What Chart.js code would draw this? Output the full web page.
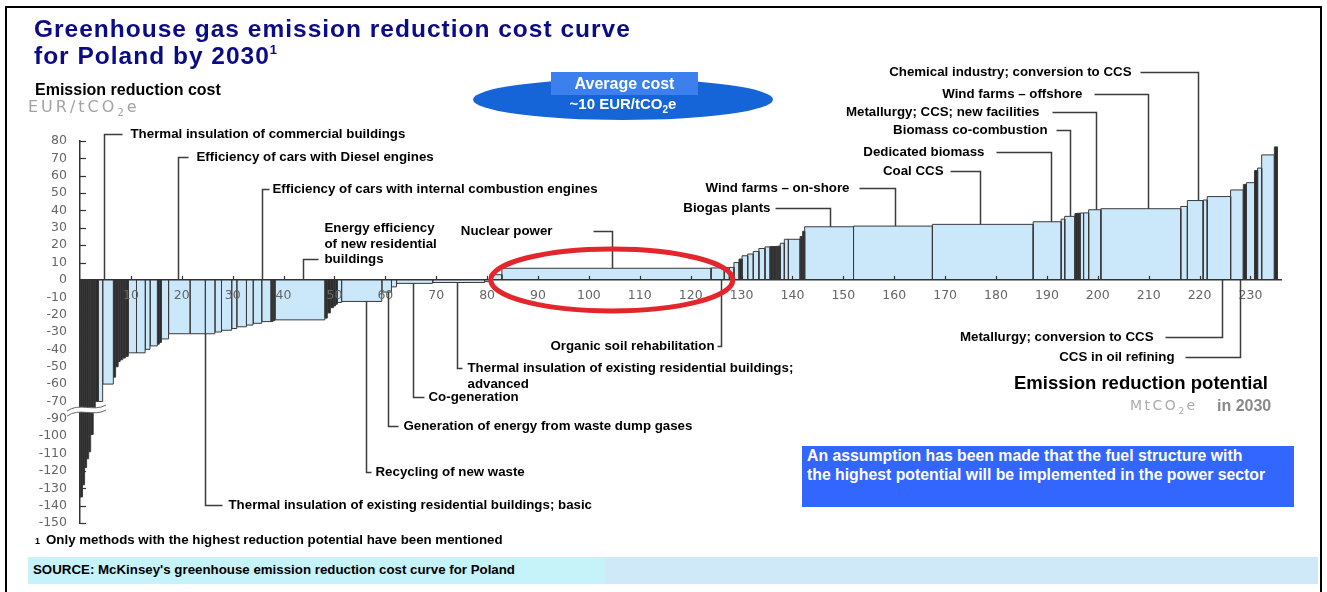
<!DOCTYPE html>
<html>
<head>
<meta charset="utf-8">
<script src="https://cdn.jsdelivr.net/npm/chart.js@4.4.1/dist/chart.umd.min.js"></script>
<style>
  body { margin: 0; width: 1327px; height: 592px; overflow: hidden; background: #fff; position: relative;
         font-family: "Liberation Sans", Arial, sans-serif; }
  .abs { position: absolute; white-space: nowrap; }
  #chart { position: absolute; left: 0; top: 0; }
  .frame { position: absolute; left: 5px; top: 6px; width: 1313px; height: 600px; border: 2px solid #000; }
  .title { left: 34px; top: 15px; font-size: 24.5px; line-height: 27px; font-weight: bold; color: #0b0b85; letter-spacing: 1px; }
  .title sup { font-size: 13px; line-height: 0; vertical-align: 10px; letter-spacing: 0; }
  .ytitle { left: 35px; top: 81px; font-size: 16px; line-height: 17px; font-weight: bold; color: #000; }
  .yunit { left: 28px; top: 98px; font-family: "DejaVu Sans", sans-serif; font-size: 16px; line-height: 18px; color: #a3a3a3; letter-spacing: 3px; }
  .ellipse { left: 473px; top: 79px; width: 300px; height: 41px; border-radius: 50%; background: #1665d8; }
  .avgbox { left: 551px; top: 72px; width: 147px; height: 23px; background: #3b80ec; color: #fff; font-weight: bold;
            font-size: 16px; line-height: 23px; text-align: center; }
  .avgval { left: 473px; top: 95px; width: 300px; text-align: center; color: #fff; font-weight: bold; font-size: 15px; line-height: 17px; }
  .avgval sub, .yunit sub, .xunit sub { line-height: 0; }
  .xtitle { left: 1014px; top: 373px; font-size: 18.5px; line-height: 20px; font-weight: bold; color: #000; }
  .xunit { left: 1130px; top: 397px; font-family: "DejaVu Sans", sans-serif; font-size: 14px; line-height: 17px; color: #ababab; letter-spacing: 2.5px; }
  .xyear { left: 1217px; top: 397px; font-size: 16px; line-height: 18px; font-weight: bold; color: #8a8a8a; }
  .note { left: 802px; top: 446px; width: 487px; height: 61px; padding-left: 5px; background: #3366fe; color: #fff;
          font-weight: bold; font-size: 15.8px; line-height: 19px; }
  .foot { left: 35px; top: 532px; font-size: 13.3px; line-height: 16px; font-weight: bold; color: #000; }
  .foot span { font-size: 9px; margin-right: 6px; }
  .src1 { left: 28px; top: 557px; width: 577px; height: 27px; background: #c6f3fa; }
  .src2 { left: 605px; top: 557px; width: 713px; height: 27px; background: #cfe9f8; }
  .srctext { left: 33px; top: 562px; font-size: 13.3px; line-height: 15px; font-weight: bold; color: #000; }
</style>
</head>
<body>
<div class="frame"></div>
<canvas id="chart" width="1327" height="592"></canvas>

<div class="abs title">Greenhouse gas emission reduction cost curve<br>for Poland by 2030<sup>1</sup></div>
<div class="abs ytitle">Emission reduction cost</div>
<div class="abs yunit">EUR/tCO<sub style="font-size:10px">2</sub>e</div>
<div class="abs ellipse"></div>
<div class="abs avgbox">Average cost</div>
<div class="abs avgval">~10 EUR/tCO<sub style="font-size:10px">2</sub>e</div>
<div class="abs xtitle">Emission reduction potential</div>
<div class="abs xunit">MtCO<sub style="font-size:9px">2</sub>e</div>
<div class="abs xyear">in 2030</div>
<div class="abs note">An assumption has been made that the fuel structure with<br>the highest potential will be implemented in the power sector</div>
<div class="abs foot"><span>1</span>Only methods with the highest reduction potential have been mentioned</div>
<div class="abs src1"></div>
<div class="abs src2"></div>
<div class="abs srctext">SOURCE: McKinsey's greenhouse emission reduction cost curve for Poland</div>

<script>
// abatement potential of each measure (MtCO2e), left to right
const potential = [0.5, 0.4, 0.4, 0.4, 0.4, 0.5, 0.4, 0.6, 0.85, 2.1,
    0.45, 0.5, 0.4, 0.5, 0.5, 0.6, 1.6, 1.7, 0.95, 1.45,
    0.4, 0.4, 1.4, 4.2, 3.0, 1.9, 1.3, 2.0, 1.0, 1.9,
    1.3, 1.7, 1.8, 0.4, 0.4, 9.8, 0.5, 0.6, 0.6, 0.4,
    0.4, 0.8, 7.9, 1.9, 1.0, 7.1, 10.2, 1.0, 2.4, 41.1,
    2.6, 1.0, 0.9, 1.0, 0.6, 1.1, 1.1, 1.1, 1.2, 1.0,
    0.6, 0.6, 0.4, 0.4, 0.8, 0.8, 2.3, 0.5, 0.4, 9.6,
    15.5, 19.8, 5.5, 0.7, 2.0, 0.5, 0.5, 0.7, 1.0, 2.4,
    15.7, 1.3, 3.1, 0.8, 4.6, 2.5, 0.6, 1.6, 0.6, 0.8,
    2.5, 0.6];

// reduction cost of each measure (EUR/tCO2e)
const cost = [-135, -128, -118, -113, -109, -99, -85, -70, -70, -60,
    -56, -50, -47, -46, -45, -44, -42, -42, -40, -38,
    -37, -36, -34, -31, -31, -31, -30, -29, -28, -27,
    -26, -25, -24, -24, -23.5, -23, -22, -19, -16, -15,
    -14, -13, -12.4, -7, -4, -2, -1.5, -1, 3, 6.7,
    6.9, 7, 7.2, 10, 12, 13.9, 14.9, 16.4, 18.1, 19,
    19.2, 19.2, 19.3, 19.5, 21.1, 23.4, 23.4, 25, 28, 30.6,
    31, 32, 33.5, 35, 36.6, 38.2, 38.4, 38.5, 38.6, 40.4,
    41, 42.3, 45.7, 46, 48, 51.8, 55, 56, 63, 64.4,
    72, 76.6];

// named measures; x = potential where the leader touches the curve
const measures = ['Thermal insulation of commercial buildings', 'Efficiency of cars with Diesel engines',
    'Efficiency of cars with internal combustion engines', 'Energy efficiency\nof new residential\nbuildings',
    'Nuclear power', 'Biogas plants', 'Wind farms \u2013 on-shore', 'Coal CCS', 'Dedicated biomass',
    'Biomass co-combustion', 'Metallurgy; CCS; new facilities', 'Wind farms \u2013 offshore',
    'Chemical industry; conversion to CCS', 'Organic soil rehabilitation',
    'Thermal insulation of existing residential buildings;\nadvanced', 'Co-generation',
    'Generation of energy from waste dump gases', 'Recycling of new waste',
    'Thermal insulation of existing residential buildings; basic', 'Metallurgy; conversion to CCS',
    'CCS in oil refining'];
const measureAt = [4.7, 19.3, 35.8, 43.8, 104.5, 147.3, 160.1, 176.8, 190.8, 194.5, 199.6, 209.8, 219.6,
    125.9, 74.1, 65.4, 60.5, 56.2, 24.6, 224.4, 227.9];

const xTicksStep = 10;
const yTicks = [80, 70, 60, 50, 40, 30, 20, 10, 0, -10, -20, -30, -40, -50, -60, -70, -90, -100, -110, -120, -130, -140, -150];

// label layout: leader elbow height (axis units), hook length and text gap (px), aligned row
const labelLayout = [
    { y: 84, hook: 18, gap: 8 }, { y: 70.9, hook: 10, gap: 8 }, { y: 52.4, hook: 7, gap: 3 },
    { y: 12.1, hook: 15, gap: 6, row: 2 }, { y: 28.2, hook: -19, gap: 41 }, { y: 41.5, hook: -55, gap: 5 },
    { y: 53, hook: -36, gap: 10 }, { y: 62.8, hook: -30, gap: 7 }, { y: 73.7, hook: -55, gap: 12 },
    { y: 86.4, hook: -14, gap: 9 }, { y: 96.8, hook: -44, gap: 13 }, { y: 107.1, hook: -54, gap: 12 },
    { y: 119.8, hook: -58, gap: 9 }, { y: -38, hook: -4, gap: 3 }, { y: -50.7, hook: 5, gap: 5 },
    { y: -67.4, hook: 11, gap: 4 }, { y: -84.1, hook: 10, gap: 5 }, { y: -110.6, hook: 5, gap: 4 },
    { y: -129.6, hook: 17, gap: 6 }, { y: -32.8, hook: -57, gap: 12 }, { y: -44.4, hook: -55, gap: 11 }
];

// the axis is broken between -70 and -90
function toAxis(v) {
    return v >= -70 ? v : Math.min(-70, v + 10);
}
function fromAxis(d) {
    return d > -75 ? d : d - 10;
}

const starts = [];
let acc = 0;
potential.forEach(w => { starts.push(acc); acc += w; });

function barValueAt(xv) {
    for (let i = 0; i < potential.length; i++) {
        if (xv >= starts[i] && xv < starts[i] + potential[i]) return toAxis(cost[i]);
    }
    return 0;
}

const datasets = cost.map((c, i) => {
    const x0 = starts[i];
    const x1 = x0 + potential[i];
    const v = toAxis(c);
    return {
        data: [{ x: x0, y: 0 }, { x: x0, y: v }, { x: x1, y: v }, { x: x1, y: 0 }],
        fill: 'origin',
        backgroundColor: potential[i] < 0.7 ? '#2c2c2c' : '#cbe8fb',
        borderColor: '#3a3a3a',
        borderWidth: 1,
        pointRadius: 0,
        tension: 0
    };
});

const curveExtras = {
    id: 'curveExtras',
    afterDraw(chart) {
        const ctx = chart.ctx;
        const x = chart.scales.x;
        const y = chart.scales.y;
        const left = chart.chartArea.left;
        const zero = y.getPixelForValue(0);
        ctx.save();

        // y ticks pointing into the plot
        ctx.strokeStyle = '#333';
        ctx.lineWidth = 1.2;
        yTicks.forEach(t => {
            const py = Math.round(y.getPixelForValue(toAxis(t))) + 0.5;
            ctx.beginPath();
            ctx.moveTo(left, py);
            ctx.lineTo(left + 6, py);
            ctx.stroke();
        });

        // small ticks on the zero line
        for (let v = xTicksStep; v <= 230; v += xTicksStep) {
            const px = Math.round(x.getPixelForValue(v)) + 0.5;
            ctx.beginPath();
            ctx.moveTo(px, zero);
            ctx.lineTo(px, zero - 4);
            ctx.stroke();
        }

        // axis break
        const yb = y.getPixelForValue(-75);
        const xa = left - 13, xb = left + 26;
        ctx.beginPath();
        ctx.moveTo(xa, yb + 1);
        ctx.bezierCurveTo(xa + 12, yb - 8, xa + 26, yb + 2, xb, yb - 5);
        ctx.lineTo(xb, yb);
        ctx.bezierCurveTo(xa + 26, yb + 7, xa + 12, yb - 3, xa, yb + 6);
        ctx.closePath();
        ctx.fillStyle = '#fff';
        ctx.fill();
        ctx.strokeStyle = '#666';
        ctx.lineWidth = 1;
        ctx.beginPath();
        ctx.moveTo(xa, yb + 1);
        ctx.bezierCurveTo(xa + 12, yb - 8, xa + 26, yb + 2, xb, yb - 5);
        ctx.moveTo(xa, yb + 6);
        ctx.bezierCurveTo(xa + 12, yb - 3, xa + 26, yb + 7, xb, yb);
        ctx.stroke();

        // leaders and labels of the named measures
        ctx.font = 'bold 13.3px "Liberation Sans", Arial, sans-serif';
        ctx.textBaseline = 'middle';
        ctx.fillStyle = '#000';
        measures.forEach((name, i) => {
            const lay = labelLayout[i];
            const px = Math.round(x.getPixelForValue(measureAt[i])) + 0.5;
            const bar = barValueAt(measureAt[i]);
            const from = lay.y > 0 ? Math.max(bar, 0) : Math.min(bar, 0);
            const py0 = y.getPixelForValue(from);
            const py1 = Math.round(y.getPixelForValue(lay.y)) + 0.5;
            ctx.strokeStyle = '#3c3c3c';
            ctx.lineWidth = 1.5;
            ctx.beginPath();
            ctx.moveTo(px, py0);
            ctx.lineTo(px, py1);
            ctx.lineTo(px + lay.hook, py1);
            ctx.stroke();
            const rows = name.split('\n');
            const rowAt = lay.row || 0;
            ctx.textAlign = lay.hook > 0 ? 'left' : 'right';
            const tx = lay.hook > 0 ? px + lay.hook + lay.gap : px + lay.hook - lay.gap;
            rows.forEach((r, k) => ctx.fillText(r, tx, py1 + (k - rowAt) * 15.5));
        });

        // red ring round the nuclear block
        ctx.strokeStyle = '#e3262b';
        ctx.lineWidth = 5;
        ctx.beginPath();
        ctx.ellipse(x.getPixelForValue(104.5), zero, 121, 31, 0, 0, Math.PI * 2);
        ctx.stroke();
        ctx.restore();
    }
};

Chart.defaults.font.family = '"Liberation Sans", Arial, sans-serif';
const tickFont = { family: '"DejaVu Sans", sans-serif', size: 12.5 };

new Chart(document.getElementById('chart'), {
    type: 'line',
    data: { datasets: datasets },
    options: {
        responsive: false,
        animation: false,
        layout: { padding: { left: 0, right: 46, top: 141, bottom: 69 } },
        plugins: {
            legend: { display: false },
            tooltip: { enabled: false }
        },
        scales: {
            x: {
                type: 'linear',
                min: 0,
                max: 236,
                position: { y: 0 },
                afterFit: s => { s.height = 0; },
                grid: { display: true, drawOnChartArea: false, drawTicks: false },
                border: { display: true, color: '#333', width: 1.5, z: 1 },
                ticks: {
                    z: 1,
                    stepSize: xTicksStep,
                    includeBounds: false,
                    autoSkip: false,
                    maxRotation: 0,
                    padding: 8,
                    color: '#666',
                    font: tickFont,
                    callback: v => (v > 0 && v % xTicksStep === 0) ? v : ''
                }
            },
            y: {
                min: -140,
                max: 80,
                afterFit: s => { s.width = 80; },
                grid: { display: true, drawOnChartArea: false, drawTicks: false },
                border: { display: true, color: '#333', width: 1.5 },
                ticks: {
                    stepSize: 10,
                    autoSkip: false,
                    padding: 13,
                    color: '#666',
                    font: tickFont,
                    callback: v => fromAxis(v)
                }
            }
        }
    },
    plugins: [curveExtras]
});
</script>
</body>
</html>
